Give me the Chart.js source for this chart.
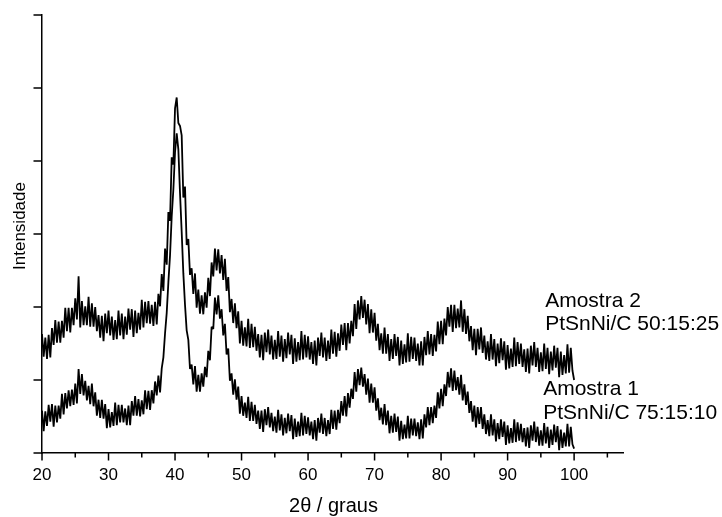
<!DOCTYPE html>
<html>
<head>
<meta charset="utf-8">
<script src="https://cdn.jsdelivr.net/npm/chart.js@4/dist/chart.umd.min.js"></script>
<style>
html,body{margin:0;padding:0;background:#fff;}
#wrap{width:722px;height:517px;}
</style>
</head>
<body>
<div id="wrap"><canvas id="c" width="722" height="517"></canvas></div>
<script>
// 2θ sampling grid (degrees)
const twoThetaStart = 20;
const twoThetaStep = 0.25;

// Amostra 1 — PtSnNi/C 75:15:10 (lower trace)
const amostra1 = [
58,30,57,37, 66,43,67,36, 65,42,65,47, 81,53,82,61, 86,64,87,66,
95,68,115,81, 108,79,99,72, 92,67,95,64, 83,51,73,48, 73,47,67,34,
60,35,56,37, 69,38,66,42, 66,42,61,38, 65,38,71,51, 78,51,74,50,
72,53,86,60, 85,59,86,68, 98,79,106,83, 116,131,164,192, 234,271,324,361,
412,438,416,356, 303,246,203,168, 155,115,121,94, 119,84,107,84, 109,91,118,104,
140,127,173,170, 213,190,216,184, 197,161,177,135, 143,99,109,80, 101,73,91,54,
78,51,69,48, 77,44,70,44, 66,40,58,33, 58,29,60,38, 63,35,55,30,
50,28,59,31, 53,24,48,27, 54,30,52,19, 47,22,43,23, 55,24,51,26,
49,24,43,19, 45,17,48,28, 54,26,48,23, 45,26,59,33, 58,32,59,41,
71,51,78,50, 82,62,88,74, 111,84,115,93, 117,91,108,80, 102,69,95,69,
90,58,75,45, 62,39,67,38, 58,27,51,28, 54,29,50,17, 44,19,39,20,
51,20,47,24, 47,23,42,19, 46,20,53,35, 63,38,63,41, 65,48,83,61,
88,64,94,78, 111,90,116,85, 113,86,104,80, 107,72,94,66, 84,55,71,43,
65,35,63,40, 63,33,53,26, 45,23,53,24, 46,16,41,19, 46,22,43,11,
38,13,34,14, 46,15,42,17, 40,15,34,9, 35,7,38,17, 43,15,36,10,
31,10,41,13, 36,7,32,11, 39,15,37,4, 32,7,28,9, 40,9,36,12,
6
];

// Amostra 2 — PtSnNi/C 50:15:25 (upper trace)
const amostra2 = [
163,132,158,129, 162,131,171,148, 182,151,180,151, 181,158,199,167, 199,165,199,175,
212,183,242,172, 208,175,201,175, 214,173,205,173, 200,167,189,158, 188,153,191,164,
195,161,187,155, 182,156,195,161, 191,156,187,162, 198,169,197,159, 195,164,192,169,
210,172,207,178, 208,177,203,174, 207,176,218,201, 245,222,280,258, 330,318,405,395,
472,487,452,448, 435,350,365,285, 293,244,253,218, 246,199,224,191, 216,190,220,199,
240,215,261,242, 280,250,279,246, 271,237,266,222, 241,193,211,178, 205,171,194,150,
181,147,172,146, 184,144,177,145, 173,140,163,131, 162,127,165,138, 169,135,161,128,
155,129,167,132, 161,125,156,130, 165,135,162,122, 157,125,152,127, 167,128,162,131,
160,128,152,122, 154,120,158,133, 165,131,158,126, 154,129,169,136, 166,132,164,140,
176,148,178,141, 178,150,181,160, 204,170,209,183, 215,185,210,176, 204,164,197,165,
192,154,177,141, 164,136,172,136, 163,126,156,129, 163,133,159,120, 154,122,149,124,
164,125,159,129, 158,126,150,120, 153,120,159,134, 167,135,163,133, 162,139,180,149,
181,149,184,161, 200,173,203,166, 203,171,198,172, 209,166,197,163, 188,153,174,141,
170,134,170,142, 172,137,161,128, 153,126,163,128, 156,119,150,123, 157,127,153,114,
148,116,143,118, 158,119,152,122, 150,118,142,111, 143,109,147,120, 152,118,144,111,
138,112,150,115, 144,108,139,113, 147,117,144,104, 139,107,134,109, 149,110,144,113,
100
];

// tick labels
const xTickValues = [20,30,40,50,60,70,80,90,100];
const xTickLabels = ['20','30','40','50','60','70','80','90','100'];
const xMinorTicks = [25,35,45,55,65,75,85,95,105];
const yTickValues = [0,100,200,300,400,500,600];

// titles and annotations
const xTitle = '2\u03B8 / graus';
const yTitle = 'Intensidade';
const annotations = [
  {text:'Amostra 2', x:95.65, y:199.5},
  {text:'PtSnNi/C 50:15:25', x:95.65, y:169},
  {text:'Amostra 1', x:95.35, y:80},
  {text:'PtSnNi/C 75:15:10', x:95.35, y:46.4}
];

function toXY(arr){
  return arr.map((v,i)=>({x: twoThetaStart + i*twoThetaStep, y: v}));
}

const FONT = '"Liberation Sans", Arial, Helvetica, sans-serif';

const decor = {
  id:'decor',
  afterDraw(chart){
    const ctx = chart.ctx;
    const xs = chart.scales.x, ys = chart.scales.y;
    const bottom = chart.chartArea.bottom, left = chart.chartArea.left;
    ctx.save();
    ctx.strokeStyle = '#000';
    ctx.lineWidth = 1.5;
    ctx.beginPath();
    xTickValues.forEach(v=>{const p=xs.getPixelForValue(v); ctx.moveTo(p,bottom); ctx.lineTo(p,bottom+7.5);});
    xMinorTicks.forEach(v=>{const p=xs.getPixelForValue(v); ctx.moveTo(p,bottom); ctx.lineTo(p,bottom+4.5);});
    yTickValues.forEach(v=>{const p=ys.getPixelForValue(v); ctx.moveTo(left,p); ctx.lineTo(left-8.5,p);});
    ctx.stroke();
    ctx.fillStyle = '#000';
    ctx.font = '17px ' + FONT;
    ctx.textAlign = 'center';
    ctx.textBaseline = 'alphabetic';
    xTickValues.forEach((v,i)=>{ctx.fillText(xTickLabels[i], xs.getPixelForValue(v), 480);});
    // x title
    ctx.font = '20px ' + FONT;
    ctx.fillText(xTitle, 333.5, 512);
    // y title
    ctx.save();
    ctx.translate(25, 226);
    ctx.rotate(-Math.PI/2);
    ctx.font = '17px ' + FONT;
    ctx.textAlign = 'center';
    ctx.fillText(yTitle, 0, 0);
    ctx.restore();
    // annotations
    ctx.font = '21px ' + FONT;
    ctx.textAlign = 'left';
    annotations.forEach(a=>{ctx.fillText(a.text, xs.getPixelForValue(a.x), ys.getPixelForValue(a.y));});
    ctx.restore();
  }
};

new Chart(document.getElementById('c'), {
  type:'line',
  data:{
    datasets:[
      {label:'Amostra 2', data:toXY(amostra2), borderColor:'#000', borderWidth:1.8, borderJoinStyle:'bevel', pointRadius:0, tension:0, fill:false},
      {label:'Amostra 1', data:toXY(amostra1), borderColor:'#000', borderWidth:1.8, borderJoinStyle:'bevel', pointRadius:0, tension:0, fill:false}
    ]
  },
  options:{
    responsive:false,
    devicePixelRatio:1,
    animation:false,
    layout:{padding:{left:34, right:99, top:15, bottom:56}},
    plugins:{legend:{display:false}, tooltip:{enabled:false}},
    scales:{
      x:{type:'linear', min:20, max:107.35,
         ticks:{display:false}, grid:{display:false},
         border:{display:true, color:'#000', width:1.5}},
      y:{type:'linear', min:0, max:600,
         ticks:{display:false, stepSize:100}, grid:{display:false},
         border:{display:true, color:'#000', width:1.5}}
    }
  },
  plugins:[decor]
});
</script>
</body>
</html>
